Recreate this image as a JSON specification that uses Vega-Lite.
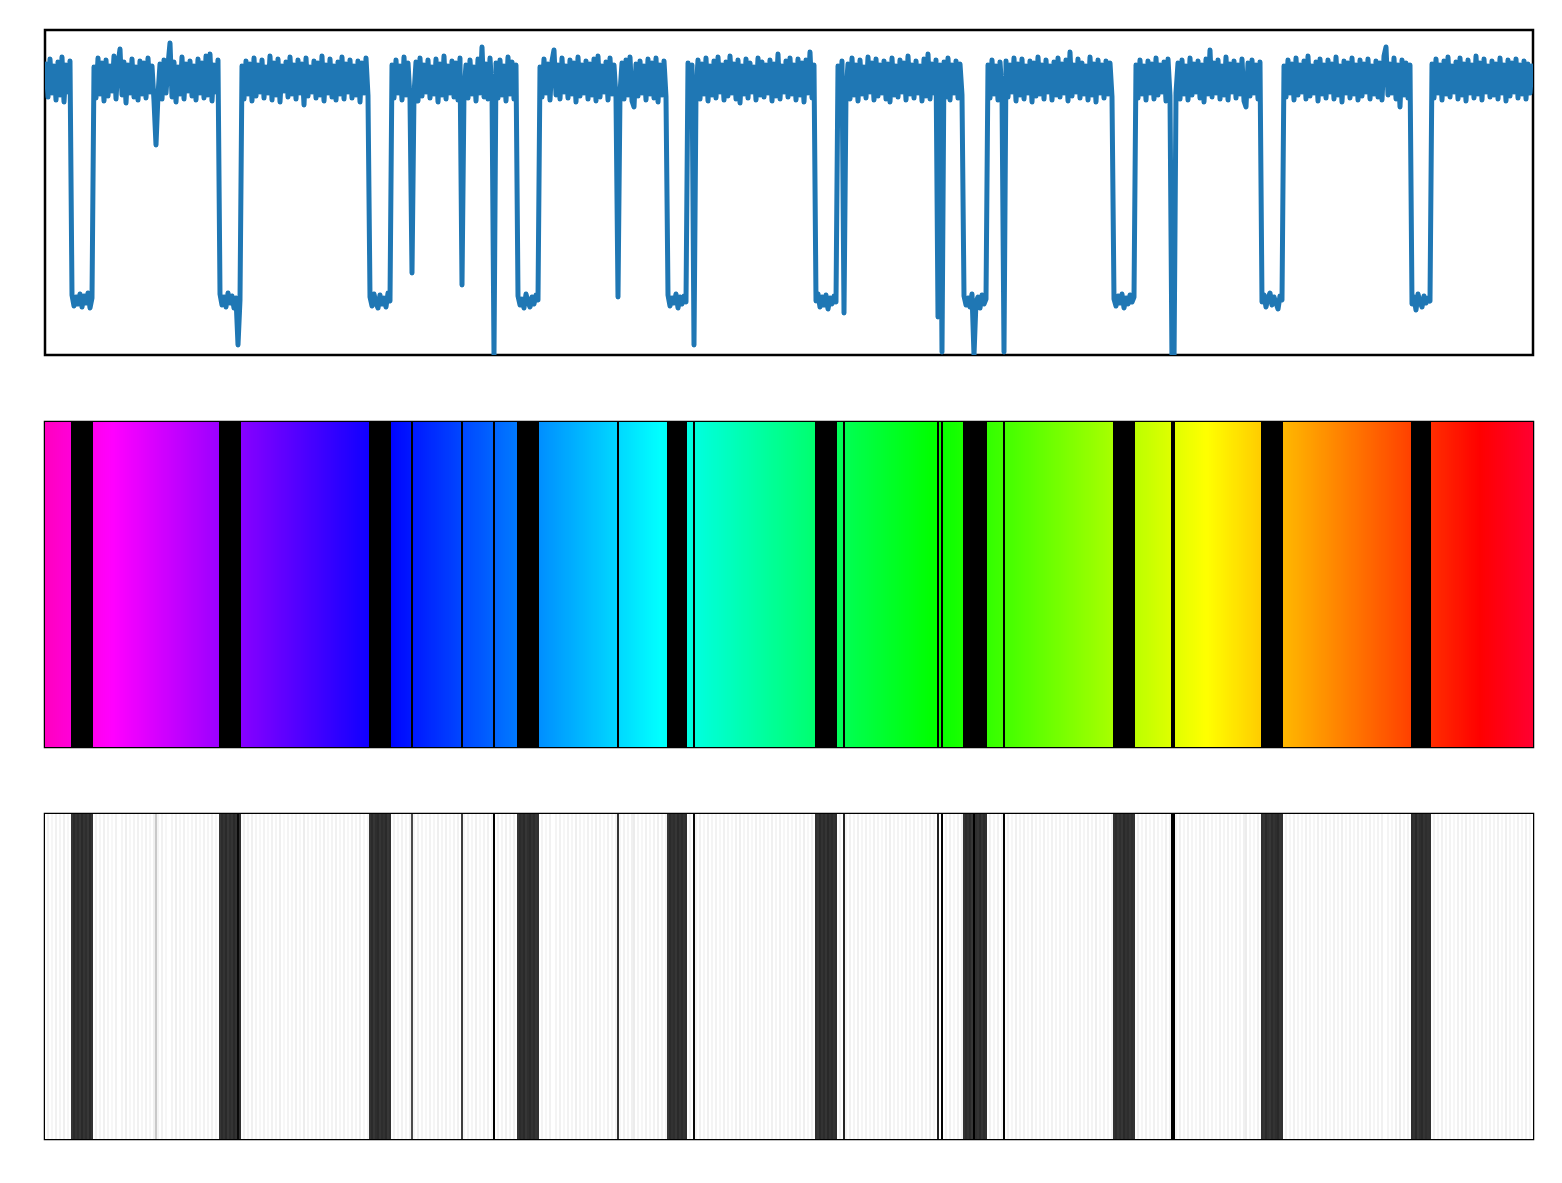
{
"$schema": "https://vega.github.io/schema/vega-lite/v6.json",
"padding": {"left": 43, "top": 28, "right": 28, "bottom": 44},
"autosize": {"type": "pad"},
"background": "white",
"config": {"view": {"stroke": "black", "strokeWidth": 2.5}, "concat": {"spacing": 63}},
"resolve": {"scale": {"color": "independent", "x": "independent", "y": "independent"}},
"data": {"values": [
{"t":1,"v":291},{"t":3,"v":258},{"t":5,"v":296},{"t":7,"v":262},{"t":9,"v":289},{"t":11,"v":255},{"t":13,"v":293},{"t":15,"v":260},{"t":17,"v":298},{"t":19,"v":253},{"t":21,"v":290},{"t":23,"v":263},{"t":25,"v":294},
{"t":27,"v":60},{"t":29,"v":49},{"t":31,"v":58},{"t":33,"v":51},{"t":35,"v":61},{"t":37,"v":48},{"t":39,"v":59},{"t":41,"v":52},{"t":43,"v":62},{"t":45,"v":47},{"t":47,"v":57},
{"t":49,"v":288},{"t":51,"v":257},{"t":53,"v":297},{"t":55,"v":261},{"t":57,"v":292},{"t":59,"v":254},{"t":61,"v":295},{"t":63,"v":259},{"t":65,"v":289},{"t":67,"v":264},{"t":69,"v":299},{"t":71,"v":256},{"t":73,"v":291},{"t":75,"v":306},{"t":77,"v":260},{"t":79,"v":293},{"t":81,"v":252},{"t":83,"v":290},{"t":85,"v":262},{"t":87,"v":296},{"t":89,"v":258},{"t":91,"v":288},{"t":93,"v":255},{"t":95,"v":294},{"t":97,"v":261},{"t":99,"v":292},{"t":101,"v":257},{"t":103,"v":297},{"t":105,"v":263},{"t":107,"v":289},{"t":109,"v":254},{"t":111,"v":210},{"t":113,"v":260},{"t":115,"v":291},{"t":117,"v":256},{"t":119,"v":295},{"t":121,"v":262},{"t":123,"v":290},{"t":125,"v":312},{"t":127,"v":258},{"t":129,"v":293},{"t":131,"v":253},{"t":133,"v":288},{"t":135,"v":261},{"t":137,"v":298},{"t":139,"v":256},{"t":141,"v":291},{"t":143,"v":264},{"t":145,"v":294},{"t":147,"v":259},{"t":149,"v":289},{"t":151,"v":255},{"t":153,"v":296},{"t":155,"v":262},{"t":157,"v":292},{"t":159,"v":257},{"t":161,"v":299},{"t":163,"v":260},{"t":165,"v":301},{"t":167,"v":254},{"t":169,"v":290},{"t":171,"v":263},{"t":173,"v":295},
{"t":175,"v":61},{"t":177,"v":50},{"t":179,"v":58},{"t":181,"v":48},{"t":183,"v":62},{"t":185,"v":52},{"t":187,"v":59},{"t":189,"v":47},{"t":191,"v":57},{"t":193,"v":10},{"t":195,"v":55},
{"t":197,"v":289},{"t":199,"v":256},{"t":201,"v":294},{"t":203,"v":261},{"t":205,"v":291},{"t":207,"v":254},{"t":209,"v":297},{"t":211,"v":259},{"t":213,"v":290},{"t":215,"v":263},{"t":217,"v":295},{"t":219,"v":257},{"t":221,"v":288},{"t":223,"v":262},{"t":225,"v":299},{"t":227,"v":255},{"t":229,"v":292},{"t":231,"v":260},{"t":233,"v":296},{"t":235,"v":253},{"t":237,"v":289},{"t":239,"v":264},{"t":241,"v":293},{"t":243,"v":258},{"t":245,"v":298},{"t":247,"v":261},{"t":249,"v":290},{"t":251,"v":256},{"t":253,"v":295},{"t":255,"v":262},{"t":257,"v":291},{"t":259,"v":250},{"t":261,"v":297},{"t":263,"v":259},{"t":265,"v":288},{"t":267,"v":263},{"t":269,"v":294},{"t":271,"v":257},{"t":273,"v":292},{"t":275,"v":260},{"t":277,"v":299},{"t":279,"v":254},{"t":281,"v":290},{"t":283,"v":262},{"t":285,"v":296},{"t":287,"v":258},{"t":289,"v":289},{"t":291,"v":255},{"t":293,"v":293},{"t":295,"v":261},{"t":297,"v":298},{"t":299,"v":256},{"t":301,"v":291},{"t":303,"v":263},{"t":305,"v":295},{"t":307,"v":257},{"t":309,"v":289},{"t":311,"v":260},{"t":313,"v":294},{"t":315,"v":253},{"t":317,"v":292},{"t":319,"v":262},{"t":321,"v":297},{"t":323,"v":259},
{"t":325,"v":58},{"t":327,"v":49},{"t":329,"v":61},{"t":331,"v":52},{"t":333,"v":47},{"t":335,"v":60},{"t":337,"v":51},{"t":339,"v":57},{"t":341,"v":48},{"t":343,"v":62},{"t":345,"v":54},
{"t":347,"v":290},{"t":349,"v":257},{"t":351,"v":295},{"t":353,"v":262},{"t":355,"v":289},{"t":357,"v":255},{"t":359,"v":298},{"t":361,"v":260},{"t":363,"v":292},{"t":365,"v":256},{"t":367,"v":82},{"t":369,"v":261},{"t":371,"v":293},{"t":373,"v":254},{"t":375,"v":297},{"t":377,"v":259},{"t":379,"v":290},{"t":381,"v":263},{"t":383,"v":295},{"t":385,"v":257},{"t":387,"v":288},{"t":389,"v":261},{"t":391,"v":296},{"t":393,"v":253},{"t":395,"v":291},{"t":397,"v":260},{"t":399,"v":299},{"t":401,"v":256},{"t":403,"v":289},{"t":405,"v":262},{"t":407,"v":294},{"t":409,"v":258},{"t":411,"v":292},{"t":413,"v":255},{"t":415,"v":297},{"t":417,"v":70},{"t":419,"v":263},{"t":421,"v":290},{"t":423,"v":257},{"t":425,"v":295},{"t":427,"v":261},{"t":429,"v":288},{"t":431,"v":254},{"t":433,"v":296},{"t":435,"v":262},{"t":437,"v":308},{"t":439,"v":258},{"t":441,"v":291},{"t":443,"v":256},{"t":445,"v":297},{"t":447,"v":263},{"t":449,"v":0},{"t":451,"v":292},{"t":453,"v":257},{"t":455,"v":295},{"t":457,"v":260},{"t":459,"v":289},{"t":461,"v":254},{"t":463,"v":298},{"t":465,"v":261},{"t":467,"v":293},{"t":469,"v":256},{"t":471,"v":290},
{"t":473,"v":59},{"t":475,"v":50},{"t":477,"v":56},{"t":479,"v":47},{"t":481,"v":61},{"t":483,"v":53},{"t":485,"v":48},{"t":487,"v":58},{"t":489,"v":51},{"t":491,"v":60},{"t":493,"v":55},
{"t":495,"v":288},{"t":497,"v":258},{"t":499,"v":296},{"t":501,"v":262},{"t":503,"v":291},{"t":505,"v":255},{"t":507,"v":294},{"t":509,"v":305},{"t":511,"v":260},{"t":513,"v":290},{"t":515,"v":256},{"t":517,"v":297},{"t":519,"v":263},{"t":521,"v":289},{"t":523,"v":257},{"t":525,"v":295},{"t":527,"v":261},{"t":529,"v":292},{"t":531,"v":253},{"t":533,"v":298},{"t":535,"v":259},{"t":537,"v":290},{"t":539,"v":262},{"t":541,"v":294},{"t":543,"v":256},{"t":545,"v":291},{"t":547,"v":260},{"t":549,"v":296},{"t":551,"v":254},{"t":553,"v":299},{"t":555,"v":258},{"t":557,"v":289},{"t":559,"v":263},{"t":561,"v":293},{"t":563,"v":255},{"t":565,"v":297},{"t":567,"v":261},{"t":569,"v":290},{"t":571,"v":257},{"t":573,"v":58},{"t":575,"v":262},{"t":577,"v":292},{"t":579,"v":256},{"t":581,"v":295},{"t":583,"v":260},{"t":585,"v":298},{"t":587,"v":254},{"t":589,"v":248},{"t":591,"v":291},{"t":593,"v":259},{"t":595,"v":294},{"t":597,"v":262},{"t":599,"v":289},{"t":601,"v":255},{"t":603,"v":296},{"t":605,"v":261},{"t":607,"v":292},{"t":609,"v":257},{"t":611,"v":297},{"t":613,"v":253},{"t":615,"v":290},{"t":617,"v":260},{"t":619,"v":294},{"t":621,"v":258},
{"t":623,"v":60},{"t":625,"v":49},{"t":627,"v":57},{"t":629,"v":52},{"t":631,"v":61},{"t":633,"v":47},{"t":635,"v":58},{"t":637,"v":51},{"t":639,"v":59},{"t":641,"v":53},
{"t":643,"v":292},{"t":645,"v":258},{"t":647,"v":290},{"t":649,"v":10},{"t":651,"v":262},{"t":653,"v":295},{"t":655,"v":256},{"t":657,"v":291},{"t":659,"v":261},{"t":661,"v":297},{"t":663,"v":254},{"t":665,"v":289},{"t":667,"v":260},{"t":669,"v":294},{"t":671,"v":257},{"t":673,"v":298},{"t":675,"v":263},{"t":677,"v":290},{"t":679,"v":255},{"t":681,"v":293},{"t":683,"v":259},{"t":685,"v":299},{"t":687,"v":262},{"t":689,"v":291},{"t":691,"v":256},{"t":693,"v":295},{"t":695,"v":252},{"t":697,"v":289},{"t":699,"v":261},{"t":701,"v":296},{"t":703,"v":257},{"t":705,"v":292},{"t":707,"v":263},{"t":709,"v":288},{"t":711,"v":255},{"t":713,"v":297},{"t":715,"v":260},{"t":717,"v":293},{"t":719,"v":258},{"t":721,"v":290},{"t":723,"v":262},{"t":725,"v":295},{"t":727,"v":254},{"t":729,"v":291},{"t":731,"v":259},{"t":733,"v":301},{"t":735,"v":256},{"t":737,"v":289},{"t":739,"v":263},{"t":741,"v":294},{"t":743,"v":258},{"t":745,"v":297},{"t":747,"v":261},{"t":749,"v":290},{"t":751,"v":255},{"t":753,"v":296},{"t":755,"v":260},{"t":757,"v":292},{"t":759,"v":253},{"t":761,"v":295},{"t":763,"v":262},{"t":765,"v":303},{"t":767,"v":257},{"t":769,"v":290},
{"t":771,"v":54},{"t":773,"v":61},{"t":775,"v":48},{"t":777,"v":58},{"t":779,"v":50},{"t":781,"v":60},{"t":783,"v":46},{"t":785,"v":57},{"t":787,"v":51},{"t":789,"v":59},{"t":791,"v":53},
{"t":793,"v":289},{"t":795,"v":258},{"t":797,"v":294},{"t":799,"v":42},{"t":801,"v":262},{"t":803,"v":291},{"t":805,"v":256},{"t":807,"v":297},{"t":809,"v":260},{"t":811,"v":290},{"t":813,"v":254},{"t":815,"v":295},{"t":817,"v":261},{"t":819,"v":288},{"t":821,"v":257},{"t":823,"v":298},{"t":825,"v":263},{"t":827,"v":292},{"t":829,"v":255},{"t":831,"v":296},{"t":833,"v":259},{"t":835,"v":290},{"t":837,"v":262},{"t":839,"v":294},{"t":841,"v":256},{"t":843,"v":291},{"t":845,"v":253},{"t":847,"v":297},{"t":849,"v":260},{"t":851,"v":289},{"t":853,"v":258},{"t":855,"v":295},{"t":857,"v":263},{"t":859,"v":292},{"t":861,"v":255},{"t":863,"v":299},{"t":865,"v":261},{"t":867,"v":290},{"t":869,"v":257},{"t":871,"v":294},{"t":873,"v":262},{"t":875,"v":289},{"t":877,"v":254},{"t":879,"v":296},{"t":881,"v":259},{"t":883,"v":301},{"t":885,"v":256},{"t":887,"v":291},{"t":889,"v":262},{"t":891,"v":295},{"t":893,"v":38},{"t":895,"v":290},{"t":897,"v":3},{"t":899,"v":293},{"t":901,"v":258},{"t":903,"v":297},{"t":905,"v":255},{"t":907,"v":290},{"t":909,"v":262},{"t":911,"v":294},{"t":913,"v":257},{"t":915,"v":291},{"t":917,"v":260},
{"t":919,"v":59},{"t":921,"v":50},{"t":923,"v":57},{"t":925,"v":48},{"t":927,"v":61},{"t":929,"v":0},{"t":931,"v":53},{"t":933,"v":58},{"t":935,"v":47},{"t":937,"v":60},{"t":939,"v":51},{"t":941,"v":56},
{"t":943,"v":290},{"t":945,"v":257},{"t":947,"v":295},{"t":949,"v":261},{"t":951,"v":289},{"t":953,"v":255},{"t":955,"v":293},{"t":957,"v":262},{"t":959,"v":3},{"t":961,"v":294},{"t":963,"v":258},{"t":965,"v":290},{"t":967,"v":263},{"t":969,"v":297},{"t":971,"v":254},{"t":973,"v":291},{"t":975,"v":260},{"t":977,"v":296},{"t":979,"v":256},{"t":981,"v":289},{"t":983,"v":262},{"t":985,"v":294},{"t":987,"v":253},{"t":989,"v":292},{"t":991,"v":259},{"t":993,"v":298},{"t":995,"v":261},{"t":997,"v":290},{"t":999,"v":256},{"t":1001,"v":295},{"t":1003,"v":263},{"t":1005,"v":289},{"t":1007,"v":255},{"t":1009,"v":293},{"t":1011,"v":260},{"t":1013,"v":297},{"t":1015,"v":258},{"t":1017,"v":291},{"t":1019,"v":262},{"t":1021,"v":295},{"t":1023,"v":254},{"t":1025,"v":303},{"t":1027,"v":259},{"t":1029,"v":290},{"t":1031,"v":263},{"t":1033,"v":296},{"t":1035,"v":257},{"t":1037,"v":292},{"t":1039,"v":261},{"t":1041,"v":289},{"t":1043,"v":255},{"t":1045,"v":298},{"t":1047,"v":260},{"t":1049,"v":291},{"t":1051,"v":253},{"t":1053,"v":295},{"t":1055,"v":262},{"t":1057,"v":290},{"t":1059,"v":257},{"t":1061,"v":294},{"t":1063,"v":261},{"t":1065,"v":292},{"t":1067,"v":258},
{"t":1069,"v":56},{"t":1071,"v":49},{"t":1073,"v":59},{"t":1075,"v":52},{"t":1077,"v":61},{"t":1079,"v":47},{"t":1081,"v":57},{"t":1083,"v":51},{"t":1085,"v":60},{"t":1087,"v":53},{"t":1089,"v":58},
{"t":1091,"v":290},{"t":1093,"v":257},{"t":1095,"v":295},{"t":1097,"v":261},{"t":1099,"v":289},{"t":1101,"v":255},{"t":1103,"v":294},{"t":1105,"v":262},{"t":1107,"v":291},{"t":1109,"v":256},{"t":1111,"v":297},{"t":1113,"v":260},{"t":1115,"v":290},{"t":1117,"v":263},{"t":1119,"v":293},{"t":1121,"v":254},{"t":1123,"v":296},{"t":1125,"v":259},{"t":1127,"v":-10},{"t":1129,"v":-10},{"t":1131,"v":262},{"t":1133,"v":292},{"t":1135,"v":256},{"t":1137,"v":295},{"t":1139,"v":261},{"t":1141,"v":289},{"t":1143,"v":255},{"t":1145,"v":297},{"t":1147,"v":260},{"t":1149,"v":291},{"t":1151,"v":263},{"t":1153,"v":294},{"t":1155,"v":257},{"t":1157,"v":290},{"t":1159,"v":253},{"t":1161,"v":296},{"t":1163,"v":261},{"t":1165,"v":305},{"t":1167,"v":258},{"t":1169,"v":292},{"t":1171,"v":262},{"t":1173,"v":295},{"t":1175,"v":256},{"t":1177,"v":289},{"t":1179,"v":260},{"t":1181,"v":298},{"t":1183,"v":255},{"t":1185,"v":291},{"t":1187,"v":263},{"t":1189,"v":294},{"t":1191,"v":257},{"t":1193,"v":290},{"t":1195,"v":261},{"t":1197,"v":296},{"t":1199,"v":254},{"t":1201,"v":248},{"t":1203,"v":292},{"t":1205,"v":259},{"t":1207,"v":295},{"t":1209,"v":262},{"t":1211,"v":290},{"t":1213,"v":256},{"t":1215,"v":293},
{"t":1217,"v":53},{"t":1219,"v":60},{"t":1221,"v":48},{"t":1223,"v":57},{"t":1225,"v":62},{"t":1227,"v":50},{"t":1229,"v":58},{"t":1231,"v":52},{"t":1233,"v":46},{"t":1235,"v":59},{"t":1237,"v":55},
{"t":1239,"v":289},{"t":1241,"v":258},{"t":1243,"v":295},{"t":1245,"v":262},{"t":1247,"v":291},{"t":1249,"v":255},{"t":1251,"v":297},{"t":1253,"v":260},{"t":1255,"v":290},{"t":1257,"v":263},{"t":1259,"v":294},{"t":1261,"v":256},{"t":1263,"v":299},{"t":1265,"v":259},{"t":1267,"v":289},{"t":1269,"v":262},{"t":1271,"v":293},{"t":1273,"v":254},{"t":1275,"v":296},{"t":1277,"v":261},{"t":1279,"v":290},{"t":1281,"v":257},{"t":1283,"v":295},{"t":1285,"v":263},{"t":1287,"v":291},{"t":1289,"v":256},{"t":1291,"v":298},{"t":1293,"v":260},{"t":1295,"v":289},{"t":1297,"v":253},{"t":1299,"v":294},{"t":1301,"v":262},{"t":1303,"v":292},{"t":1305,"v":257},{"t":1307,"v":297},{"t":1309,"v":261},{"t":1311,"v":290},{"t":1313,"v":255},{"t":1315,"v":295},{"t":1317,"v":259},{"t":1319,"v":291},{"t":1321,"v":263},{"t":1323,"v":296},{"t":1325,"v":256},{"t":1327,"v":289},{"t":1329,"v":261},{"t":1331,"v":294},{"t":1333,"v":258},{"t":1335,"v":292},{"t":1337,"v":255},{"t":1339,"v":299},{"t":1341,"v":308},{"t":1343,"v":260},{"t":1345,"v":291},{"t":1347,"v":262},{"t":1349,"v":297},{"t":1351,"v":256},{"t":1353,"v":290},{"t":1355,"v":248},{"t":1357,"v":295},{"t":1359,"v":260},{"t":1361,"v":292},{"t":1363,"v":257},{"t":1365,"v":290},
{"t":1367,"v":51},{"t":1369,"v":58},{"t":1371,"v":45},{"t":1373,"v":61},{"t":1375,"v":53},{"t":1377,"v":48},{"t":1379,"v":59},{"t":1381,"v":52},{"t":1383,"v":57},{"t":1385,"v":54},
{"t":1387,"v":291},{"t":1389,"v":257},{"t":1391,"v":296},{"t":1393,"v":262},{"t":1395,"v":290},{"t":1397,"v":255},{"t":1399,"v":294},{"t":1401,"v":261},{"t":1403,"v":298},{"t":1405,"v":258},{"t":1407,"v":289},{"t":1409,"v":263},{"t":1411,"v":293},{"t":1413,"v":256},{"t":1415,"v":297},{"t":1417,"v":260},{"t":1419,"v":291},{"t":1421,"v":254},{"t":1423,"v":295},{"t":1425,"v":262},{"t":1427,"v":290},{"t":1429,"v":257},{"t":1431,"v":299},{"t":1433,"v":261},{"t":1435,"v":292},{"t":1437,"v":255},{"t":1439,"v":296},{"t":1441,"v":263},{"t":1443,"v":289},{"t":1445,"v":258},{"t":1447,"v":294},{"t":1449,"v":260},{"t":1451,"v":291},{"t":1453,"v":256},{"t":1455,"v":297},{"t":1457,"v":262},{"t":1459,"v":290},{"t":1461,"v":254},{"t":1463,"v":295},{"t":1465,"v":259},{"t":1467,"v":292},{"t":1469,"v":263},{"t":1471,"v":296},{"t":1473,"v":257},{"t":1475,"v":290},{"t":1477,"v":261},{"t":1479,"v":294},{"t":1481,"v":256},{"t":1483,"v":291},{"t":1485,"v":262},{"t":1487,"v":289}
]},
"vconcat": [
{
"width": 1488, "height": 325,
"mark": {"type": "line", "color": "#1f77b4", "strokeWidth": 5, "strokeCap": "round", "strokeJoin": "round", "clip": true},
"encoding": {
"x": {"field": "t", "type": "quantitative", "scale": {"domain": [0, 1488], "nice": false, "zero": false}, "axis": null},
"y": {"field": "v", "type": "quantitative", "scale": {"domain": [0, 325], "nice": false, "zero": false}, "axis": null}
}
},
{
"width": 1488, "height": 325,
"mark": {"type": "rule", "strokeWidth": 2, "strokeCap": "butt", "clip": true},
"encoding": {
"x": {"field": "t", "type": "quantitative", "scale": {"domain": [0, 1488], "nice": false, "zero": false}, "axis": null},
"color": {
"condition": {"test": "datum.v < 150", "value": "#000000"},
"field": "t", "type": "quantitative",
"scale": {"domain": [0, 68, 341.4, 614.8, 888.2, 1161.6, 1435, 1488], "range": ["#ff00c0", "#ff00ff", "#0000ff", "#00ffff", "#00ff00", "#ffff00", "#ff0000", "#ff0031"], "interpolate": "rgb"},
"legend": null
}
}
},
{
"width": 1488, "height": 325,
"mark": {"type": "rule", "strokeWidth": 2, "strokeCap": "butt", "clip": true},
"encoding": {
"x": {"field": "t", "type": "quantitative", "scale": {"domain": [0, 1488], "nice": false, "zero": false}, "axis": null},
"color": {
"field": "v", "type": "quantitative",
"scale": {"domain": [0, 60, 240, 275], "range": ["#000000", "#353535", "#e6e6e6", "#ffffff"], "clamp": true, "interpolate": "rgb"},
"legend": null
}
}
}
]
}
